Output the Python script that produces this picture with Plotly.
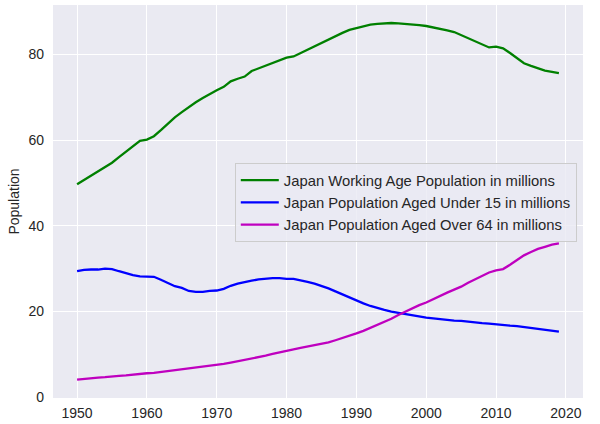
import plotly.graph_objects as go

years = list(range(1950, 2020))

# Japan population in millions
working_age = [49.7, 50.7, 51.7, 52.7, 53.7, 54.7, 56.0, 57.3, 58.6, 59.8,
               60.1, 60.9, 62.3, 63.8, 65.3, 66.5, 67.7, 68.8, 69.8, 70.8,
               71.6, 72.4, 73.7, 74.3, 74.8, 76.1, 76.7, 77.3, 77.9, 78.6,
               79.2, 79.5, 80.3, 81.1, 81.9, 82.6, 83.4, 84.2, 85.0, 85.7,
               86.1, 86.6, 86.9, 87.1, 87.2, 87.3, 87.2, 87.1, 87.0, 86.8,
               86.6, 86.3, 85.9, 85.6, 85.2, 84.5, 83.8, 83.0, 82.3, 81.6,
               81.8, 81.4, 80.3, 79.0, 77.9, 77.3, 76.7, 76.2, 75.9, 75.6]
under_15 = [29.4, 29.7, 29.8, 29.8, 30.0, 29.9, 29.4, 28.9, 28.5, 28.2,
            28.1, 28.1, 27.4, 26.6, 25.9, 25.5, 24.8, 24.6, 24.6, 24.8,
            24.9, 25.3, 26.0, 26.5, 26.9, 27.2, 27.5, 27.7, 27.8, 27.8,
            27.6, 27.6, 27.3, 26.9, 26.5, 26.0, 25.4, 24.7, 24.0, 23.2,
            22.5, 21.9, 21.3, 20.8, 20.4, 20.0, 19.7, 19.4, 19.1, 18.8,
            18.6, 18.4, 18.2, 18.0, 17.9, 17.8, 17.6, 17.5, 17.3, 17.2,
            17.0, 16.9, 16.7, 16.6, 16.4, 16.1, 16.0, 15.8, 15.6, 15.3]
over_64 = [4.1, 4.3, 4.4, 4.6, 4.7, 4.9, 5.0, 5.1, 5.3, 5.4,
           5.6, 5.7, 5.9, 6.1, 6.3, 6.5, 6.8, 7.0, 7.2, 7.4,
           7.5, 7.8, 8.1, 8.4, 8.8, 9.1, 9.4, 9.7, 10.1, 10.5,
           10.9, 11.2, 11.5, 11.8, 12.1, 12.4, 12.8, 13.3, 13.8, 14.3,
           14.9, 15.5, 16.2, 16.9, 17.6, 18.3, 19.2, 20.0, 20.8, 21.5,
           22.1, 22.9, 23.6, 24.4, 25.1, 25.8, 26.7, 27.5, 28.4, 29.1,
           29.6, 29.9, 30.9, 32.1, 33.1, 33.9, 34.6, 35.1, 35.6, 35.9]

series = [
    ("Japan Working Age Population in millions", working_age, "#008000"),
    ("Japan Population Aged Under 15 in millions", under_15, "#0000FF"),
    ("Japan Population Aged Over 64 in millions", over_64, "#BF00BF"),
]

fig = go.Figure()
for name, vals, color in series:
    fig.add_trace(go.Scatter(x=years, y=vals, mode="lines", name=name,
                             line=dict(color=color, width=2.3)))

font = "Arial, Liberation Sans, sans-serif"
fig.update_layout(
    width=600, height=424,
    margin=dict(l=53, r=17, t=5, b=26),
    paper_bgcolor="white",
    plot_bgcolor="#EAEAF2",
    font=dict(family=font, size=14, color="#262626"),
    showlegend=True,
    legend=dict(x=0.343, y=0.598, xanchor="left", yanchor="top",
                bgcolor="rgba(234,234,242,0.8)", bordercolor="#CCCCCC",
                borderwidth=1, font=dict(size=14.8, color="#262626"),
                tracegroupgap=0, itemwidth=38),
)
fig.update_xaxes(range=[1946.55, 2022.45], tickvals=[1950, 1960, 1970, 1980, 1990, 2000, 2010, 2020],
                 showgrid=True, gridcolor="white", gridwidth=1.2, zeroline=False,
                 showline=False, ticks="", ticklabelstandoff=5, automargin=False)
fig.update_yaxes(range=[-0.17, 91.5], tickvals=[0, 20, 40, 60, 80],
                 showgrid=True, gridcolor="white", gridwidth=1.2, zeroline=False,
                 showline=False, ticks="", ticklabelstandoff=8, automargin=False,
                 title=dict(text="Population", font=dict(size=14, color="#262626"), standoff=5))

# drop the browser's default body margin so the figure sits at the page corner
fig.write_html("out.html", config={"displayModeBar": False},
               post_script="document.body.style.margin='0';")
